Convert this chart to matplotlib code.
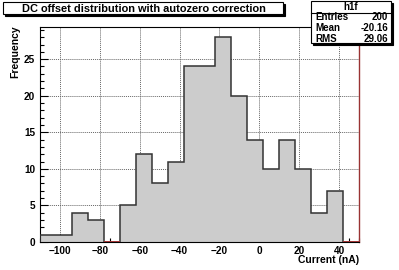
import numpy as np
import matplotlib
matplotlib.use("Agg")
import matplotlib.pyplot as plt
from matplotlib.patches import Rectangle
from matplotlib.ticker import MultipleLocator

# histogram h1f : 20 bins from -110 to 50
edges = np.arange(-110, 51, 8)
counts = [1, 1, 4, 3, 0, 5, 12, 8, 11, 24,
          24, 28, 20, 14, 10, 14, 10, 4, 7, 0]
title = "DC offset distribution with autozero correction"
stats = [("Entries", "200"), ("Mean", "-20.16"), ("RMS", "29.06")]

W, H = 399, 270
plt.rcParams['font.family'] = ['Liberation Sans', 'DejaVu Sans']
plt.rcParams['font.weight'] = 'bold'

fig = plt.figure(figsize=(W / 100, H / 100), dpi=100)

def fx(x):
    return x / W

def fy(y):
    return 1 - y / H

ax = fig.add_axes([fx(40), fy(242), fx(319), (242 - 27) / H])

counts = np.array(counts)
ax.bar(edges[:-1], counts, width=8, align='edge', color='#cccccc', lw=0, zorder=2)
ax.stairs(counts, edges, color='#333333', lw=1.1, zorder=3)
# empty bins are drawn in red on the axis
zero = counts == 0
ax.hlines(np.zeros(zero.sum()), edges[:-1][zero], edges[1:][zero],
          color='#aa3333', lw=1.3, zorder=4)

ax.set_xlim(-110, 50)
ax.set_ylim(0, 29.4)
ax.xaxis.set_major_locator(MultipleLocator(20))
ax.xaxis.set_minor_locator(MultipleLocator(5))
ax.yaxis.set_major_locator(MultipleLocator(5))
ax.yaxis.set_minor_locator(MultipleLocator(1))
ax.tick_params(direction='in', labelsize=7.2, length=6, width=0.8)
ax.tick_params(axis='x', pad=3)
ax.tick_params(axis='y', pad=3.5)
ax.tick_params(which='minor', direction='in', length=3, width=0.8)
ax.tick_params(axis='x', top=False)
ax.tick_params(axis='y', right=False)
ax.grid(True, which='major', color='#666666', linestyle=(0, (1, 1)), lw=0.7, zorder=1)
ax.set_axisbelow(True)
for s in ['left', 'bottom', 'top']:
    ax.spines[s].set_linewidth(0.8)
ax.spines['right'].set_color('#993333')
ax.spines['right'].set_linewidth(1.0)

fig.text(fx(359), fy(260), "Current (nA)", ha='right', va='center', fontsize=7.5, fontweight='bold')
fig.text(fx(15), fy(25), "Frequency", ha='center', va='top', rotation=90, fontsize=7.5, fontweight='bold')

def box(x0, y0, x1, y1):
    # shadow then white box
    fig.add_artist(Rectangle((fx(x0 + 2), fy(y1 + 2)), fx(x1 - x0), (y1 - y0) / H,
                             facecolor='black', edgecolor='black', lw=0.8))
    fig.add_artist(Rectangle((fx(x0), fy(y1)), fx(x1 - x0), (y1 - y0) / H,
                             facecolor='white', edgecolor='black', lw=0.8))

box(3, 2, 283, 14)
fig.text(fx(143.5), fy(8.5), title, ha='center', va='center', fontsize=7.9, fontweight='bold')

box(311, 1, 391, 43)
fig.text(fx(351), fy(6.5), "h1f", ha='center', va='center', fontsize=7, fontweight='bold')
fig.add_artist(plt.Line2D([fx(311), fx(391)], [fy(12.5), fy(12.5)], color='black', lw=0.8))
for i, (k, v) in enumerate(stats):
    yy = fy(17.5 + i * 10.5)
    fig.text(fx(315), yy, k, ha='left', va='center', fontsize=7, fontweight='bold')
    fig.text(fx(388), yy, v, ha='right', va='center', fontsize=7, fontweight='bold')

fig.savefig("out.png", dpi=100)
